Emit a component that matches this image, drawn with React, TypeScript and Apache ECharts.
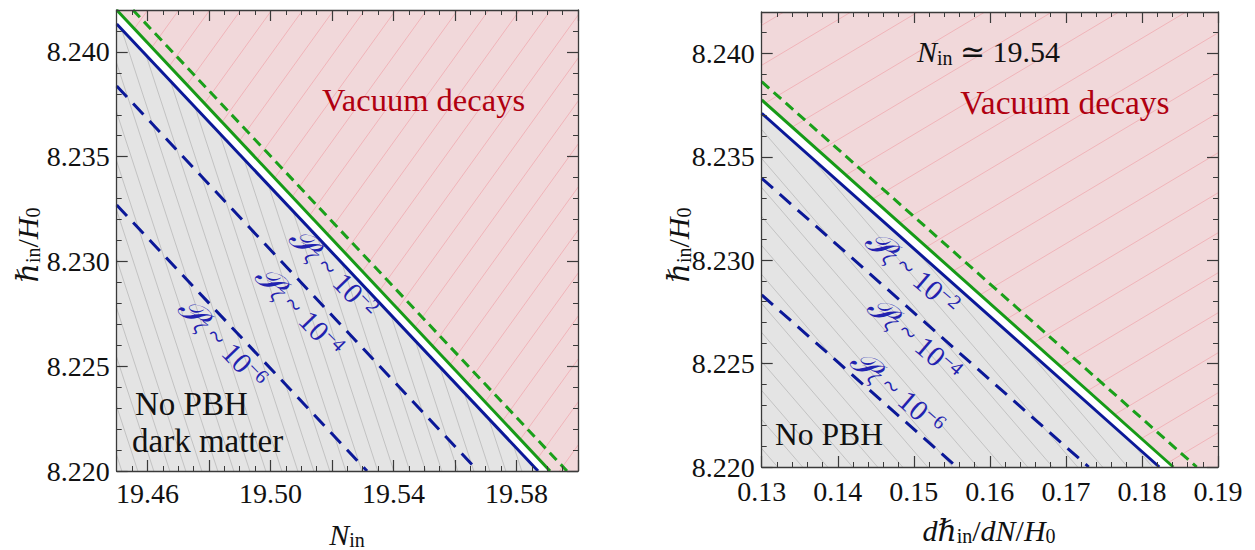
import React, { useEffect, useRef } from "react";
import * as echarts from "echarts";

const SERIF = "'Liberation Serif', 'DejaVu Serif', serif";

// ---------------- data ----------------
const yRange = [8.22, 8.242];
const yTickLabels = [8.22, 8.225, 8.23, 8.235, 8.24];

// left panel (x: N_in)
const leftXRange = [19.45, 19.6];
const leftXTickLabels = [19.46, 19.5, 19.54, 19.58];
const leftXMajorTicks = [19.46, 19.48, 19.5, 19.52, 19.54, 19.56, 19.58, 19.6];
const leftGreenDashed = [[19.4553, 8.242], [19.5964, 8.22]];
const leftGreenSolid = [[19.45, 8.242], [19.5909, 8.22]];
const leftBlueSolid = [[19.45, 8.24133], [19.587, 8.22]];
const leftBlueDash4 = [[19.45, 8.23837], [19.5675, 8.22]];
const leftBlueDash6 = [[19.45, 8.23269], [19.5314, 8.22]];

// right panel (x: dh_in/dN/H0)
const rightXRange = [0.13, 0.19];
const rightXTickLabels = [0.13, 0.14, 0.15, 0.16, 0.17, 0.18, 0.19];
const rightGreenDashed = [[0.13, 8.23863], [0.1872, 8.22]];
const rightGreenSolid = [[0.13, 8.23775], [0.18412, 8.22]];
const rightBlueSolid = [[0.13, 8.2371], [0.18228, 8.22]];
const rightBlueDash4 = [[0.13, 8.23396], [0.173, 8.22]];
const rightBlueDash6 = [[0.13, 8.22832], [0.15564, 8.22]];

// ---------------- helpers ----------------
function steps(a: number, b: number, s: number) {
  const out: number[] = [];
  const n = Math.round((b - a) / s);
  for (let i = 0; i <= n; i++) out.push(+(a + i * s).toFixed(6));
  return out;
}

function hatch(base: string, stroke: string, sx: number, sy: number, dir: "up" | "down", lw = 1) {
  const c = document.createElement("canvas");
  c.width = sx;
  c.height = sy;
  const g = c.getContext("2d")!;
  g.fillStyle = base;
  g.fillRect(0, 0, sx, sy);
  g.strokeStyle = stroke;
  g.lineWidth = lw;
  for (let k = -1; k <= 1; k++) {
    g.beginPath();
    if (dir === "up") {
      g.moveTo(k * sx - sx, 2 * sy);
      g.lineTo(k * sx + 2 * sx, -sy);
    } else {
      g.moveTo(k * sx - sx, -sy);
      g.lineTo(k * sx + 2 * sx, 2 * sy);
    }
    g.stroke();
  }
  return { image: c, repeat: "repeat", imageWidth: sx, imageHeight: sy } as any;
}

const FRAME = "#3a3a3a";

function axisPair(
  gridIndex: number,
  position: string,
  range: number[],
  major: number[],
  minor: number[],
  labels: number[],
  digits: number,
  showLabel: boolean,
  margin: number
) {
  const common = {
    type: "value",
    gridIndex,
    position,
    min: range[0],
    max: range[1],
    splitLine: { show: false },
    z: 5,
  };
  return [
    {
      ...common,
      axisLine: { show: true, onZero: false, lineStyle: { color: FRAME, width: 1.3 } },
      axisTick: { show: true, inside: true, length: 11, customValues: major, lineStyle: { color: FRAME, width: 1.2 } },
      axisLabel: {
        show: showLabel,
        customValues: labels,
        formatter: (v: number) => Number(v).toFixed(digits),
        fontFamily: SERIF,
        fontSize: 28,
        lineHeight: 20,
        color: "#111",
        margin,
      },
    },
    {
      ...common,
      axisLine: { show: false, onZero: false },
      axisTick: { show: true, inside: true, length: 5, customValues: minor, lineStyle: { color: FRAME, width: 1 } },
      axisLabel: { show: false },
    },
  ];
}

const mathRich = {
  i: { fontFamily: SERIF, fontStyle: "italic", fontSize: 30, fill: "#111", lineHeight: 32 },
  r: { fontFamily: SERIF, fontSize: 30, fill: "#111", lineHeight: 32 },
  s: { fontFamily: SERIF, fontSize: 20, fill: "#111", lineHeight: 16, verticalAlign: "bottom" },
};

const BLUE_TXT = "#2222b0";
function pLabel(x: number, y: number, rot: number, exp: string) {
  return {
    type: "text",
    x,
    y,
    rotation: rot,
    z: 50,
    style: {
      text: `{p|𝒫}{z|ζ}{m| ~ 10}{e|−${exp}}`,
      align: "center",
      verticalAlign: "middle",
      fill: BLUE_TXT,
      rich: {
        p: { fontFamily: SERIF, fontStyle: "italic", fontSize: 33, fill: BLUE_TXT, lineHeight: 30 },
        z: { fontFamily: SERIF, fontStyle: "italic", fontSize: 20, fill: BLUE_TXT, lineHeight: 14, verticalAlign: "bottom" },
        m: { fontFamily: SERIF, fontSize: 29, fill: BLUE_TXT, lineHeight: 30 },
        e: { fontFamily: SERIF, fontSize: 20, fill: BLUE_TXT, lineHeight: 16, verticalAlign: "top" },
      },
    },
  };
}

const GREEN_TXT = "#26a626";
function hLabel(x: number, y: number, rot: number) {
  return {
    type: "group",
    x,
    y,
    rotation: rot,
    z: 50,
    children: [
      { type: "text", x: 0, y: 0, style: { text: "ℏ", fontFamily: SERIF, fontStyle: "italic", fontSize: 26, fill: GREEN_TXT, align: "right", verticalAlign: "middle" } },
      { type: "text", x: 1, y: -7, style: { text: "max", fontFamily: SERIF, fontSize: 18, fill: GREEN_TXT, align: "left", verticalAlign: "middle" } },
      { type: "text", x: 0, y: 9, style: { text: "end", fontFamily: SERIF, fontSize: 18, fill: GREEN_TXT, align: "left", verticalAlign: "middle" } },
    ],
  };
}

function plainText(x: number, y: number, text: string, size: number, color: string, align = "center") {
  return {
    type: "text",
    x,
    y,
    z: 50,
    style: { text, fontFamily: SERIF, fontSize: size, lineHeight: 28, fill: color, align, verticalAlign: "middle" },
  };
}

function lineSeries(data: number[][], xi: number, color: string, dashed: number[] | null, z = 3) {
  return {
    type: "line",
    xAxisIndex: xi,
    yAxisIndex: xi,
    data,
    symbol: "none",
    silent: true,
    z,
    lineStyle: { color, width: 3, type: dashed ? dashed : "solid" },
  };
}

function areaSeries(data: number[][], xi: number, color: any, origin: string) {
  return {
    type: "line",
    xAxisIndex: xi,
    yAxisIndex: xi,
    data,
    symbol: "none",
    silent: true,
    z: 1,
    lineStyle: { width: 0 },
    areaStyle: { color, opacity: 1, origin },
  };
}

const BLUE = "#0b1898";
const GREEN = "#179a17";
const GREEN_D = "#1aa01a";

export default function App() {
  const ref = useRef<HTMLDivElement>(null);
  useEffect(() => {
    if (!ref.current) return;
    const chart = echarts.init(ref.current, undefined, { renderer: "svg" });

    const pinkL = hatch("#f1d8da", "#f0b4b9", 31, 43, "up");
    const grayL = hatch("#e4e4e4", "#c2c2c2", 16, 49, "down");
    const pinkR = hatch("#f1d8da", "#f0b4b9", 67, 40, "up");
    const grayR = hatch("#e4e4e4", "#c2c2c2", 25, 29, "down");

    const yMinor = steps(yRange[0], yRange[1], 0.001);
    const yMajor = steps(8.22, 8.24, 0.005);

    const option: any = {
      animation: false,
      backgroundColor: "#ffffff",
      grid: [
        { left: 116.7, top: 10, width: 461.3, height: 461 },
        { left: 761.7, top: 12, width: 456.3, height: 455 },
      ],
      xAxis: [
        ...axisPair(0, "bottom", leftXRange, leftXMajorTicks, steps(19.45, 19.6, 0.005), leftXTickLabels, 2, true, 12),
        ...axisPair(0, "top", leftXRange, leftXMajorTicks, steps(19.45, 19.6, 0.005), leftXTickLabels, 2, false, 12),
        ...axisPair(1, "bottom", rightXRange, rightXTickLabels, steps(0.13, 0.19, 0.002), rightXTickLabels, 2, true, 14),
        ...axisPair(1, "top", rightXRange, rightXTickLabels, steps(0.13, 0.19, 0.002), rightXTickLabels, 2, false, 14),
      ],
      yAxis: [
        ...axisPair(0, "left", yRange, yMajor, yMinor, yTickLabels, 3, true, 7),
        ...axisPair(0, "right", yRange, yMajor, yMinor, yTickLabels, 3, false, 7),
        ...axisPair(1, "left", yRange, yMajor, yMinor, yTickLabels, 3, true, 7),
        ...axisPair(1, "right", yRange, yMajor, yMinor, yTickLabels, 3, false, 7),
      ],
      series: [
        // left panel
        areaSeries(leftBlueSolid, 0, grayL, "start"),
        areaSeries([...leftGreenSolid, [leftXRange[1], yRange[0]]], 0, pinkL, "end"),
        lineSeries(leftBlueDash6, 0, BLUE, [15, 9]),
        lineSeries(leftBlueDash4, 0, BLUE, [15, 9]),
        lineSeries(leftBlueSolid, 0, BLUE, null),
        lineSeries(leftGreenSolid, 0, GREEN, null),
        lineSeries(leftGreenDashed, 0, GREEN_D, [10, 6]),
        // right panel
        areaSeries(rightBlueSolid, 4, grayR, "start"),
        areaSeries([...rightGreenSolid, [rightXRange[1], yRange[0]]], 4, pinkR, "end"),
        lineSeries(rightBlueDash6, 4, BLUE, [15, 9]),
        lineSeries(rightBlueDash4, 4, BLUE, [15, 9]),
        lineSeries(rightBlueSolid, 4, BLUE, null),
        lineSeries(rightGreenSolid, 4, GREEN, null),
        lineSeries(rightGreenDashed, 4, GREEN_D, [10, 6]),
      ],
      graphic: [
        plainText(423.5, 100, "Vacuum decays", 32.5, "#b00010"),
        plainText(1065, 102, "Vacuum decays", 33.5, "#b00010"),
        plainText(135, 404, "No PBH", 33, "#111", "left"),
        plainText(132, 441, "dark matter", 33, "#111", "left"),
        plainText(775, 434, "No PBH", 31.6, "#111", "left"),
        {
          type: "text",
          x: 988.5,
          y: 51.5,
          z: 50,
          style: { text: "{i|N}{s|in}{r| ≃ 19.54}", align: "center", verticalAlign: "middle", rich: mathRich },
        },
        pLabel(334, 273, -0.8, "2"),
        pLabel(300, 311, -0.8, "4"),
        pLabel(223, 343, -0.8, "6"),
        pLabel(913, 272, -0.71, "2"),
        pLabel(915, 338, -0.71, "4"),
        pLabel(898, 392, -0.71, "6"),
        hLabel(394, 257, -0.8),
        hLabel(992, 252, -0.71),
        // axis titles
        { type: "text", x: 347, y: 534, z: 50, style: { text: "{i|N}{s|in}", align: "center", verticalAlign: "middle", rich: mathRich } },
        { type: "text", x: 989, y: 530, z: 50, style: { text: "{i|dℏ}{s|in}{r|/}{i|dN}{r|/}{i|H}{s|0}", align: "center", verticalAlign: "middle", rich: mathRich } },
        { type: "text", x: 27, y: 245, rotation: Math.PI / 2, z: 50, style: { text: "{i|ℏ}{s|in}{r|/}{i|H}{s|0}", align: "center", verticalAlign: "middle", rich: mathRich } },
        { type: "text", x: 678, y: 245, rotation: Math.PI / 2, z: 50, style: { text: "{i|ℏ}{s|in}{r|/}{i|H}{s|0}", align: "center", verticalAlign: "middle", rich: mathRich } },
      ],
    };
    chart.setOption(option);
    return () => chart.dispose();
  }, []);
  return <div ref={ref} style={{ position: "absolute", left: 0, top: 0, width: 1255, height: 550 }} />;
}
